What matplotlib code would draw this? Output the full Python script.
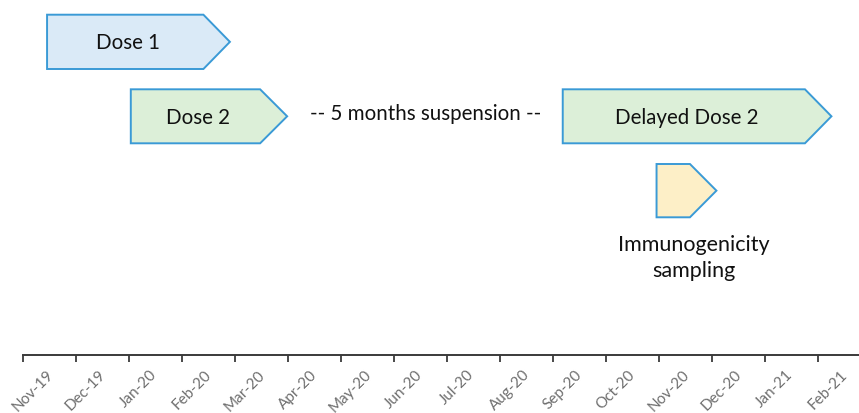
import matplotlib
matplotlib.use("Agg")
import matplotlib.pyplot as plt
from matplotlib.patches import Polygon
import matplotlib.transforms as mtransforms

# ---- data ----
months = ["Nov-19", "Dec-19", "Jan-20", "Feb-20", "Mar-20", "Apr-20", "May-20", "Jun-20",
          "Jul-20", "Aug-20", "Sep-20", "Oct-20", "Nov-20", "Dec-20", "Jan-21", "Feb-21"]
labels = ["Dose 1", "Dose 2", "Delayed Dose 2", ""]
starts = [0.46, 2.04, 10.19, 11.96]      # month index where shape begins
body_ends = [3.41, 4.48, 14.76, 12.59]   # where the arrow head begins
tips = [3.91, 4.99, 15.26, 13.09]        # arrow tip
rows = [0, 1, 1, 2]
fills = ["#DAEAF7", "#DCEFD8", "#DCEFD8", "#FDEFC7"]
suspension_text = "-- 5 months suspension --"
suspension_pos = 7.6
sampling_text = "Immunogenicity\nsampling"
sampling_pos = 12.65

# ---- layout ----
FONT = "Lato"
row_top = [15.7, 90.3, 165.0]
row_h = [54.3, 54.0, 53.3]
edge = "#3A9AD6"

fig = plt.figure(figsize=(8.59, 4.14), dpi=100)
ax = fig.add_axes([0, 0, 1, 1])
ax.set_xlim(-0.428, 15.78)
ax.set_ylim(414, 0)

for lab, s, b, t, r, fc in zip(labels, starts, body_ends, tips, rows, fills):
    top = row_top[r]
    bot = top + row_h[r]
    mid = (top + bot) / 2
    poly = Polygon([(s, top), (b, top), (t, mid), (b, bot), (s, bot)], closed=True,
                   facecolor=fc, edgecolor=edge, linewidth=1.4, joinstyle="miter")
    ax.add_patch(poly)
    if lab:
        ax.text((s + b) / 2 + 0.05, mid + 0.5, lab, ha="center", va="center",
                fontsize=14.8, family=FONT, color="#111111")

ax.text(suspension_pos, row_top[1] + 24, suspension_text, ha="center", va="center",
        fontsize=14.8, family=FONT, color="#111111")
ax.text(sampling_pos + 0.02, 258, sampling_text, ha="center", va="center", linespacing=1.4,
        fontsize=15.5, family=FONT, color="#111111")

# timeline axis
for sp in ["top", "left", "right"]:
    ax.spines[sp].set_visible(False)
ax.spines["bottom"].set_position(("data", 356))
ax.spines["bottom"].set_bounds(0, 15.78)
ax.spines["bottom"].set_color("#3a3a3a")
ax.spines["bottom"].set_linewidth(1.4)
ax.set_yticks([])
ax.set_xticks(range(len(months)))
ax.set_xticklabels(months, rotation=45, ha="center", va="top", family=FONT,
                   fontsize=11, color="#6f6f6f")
ax.tick_params(axis="x", direction="out", length=5, width=1.3, color="#3a3a3a", pad=3.5)
offset = mtransforms.ScaledTranslation(10 / 100, 0, fig.dpi_scale_trans)
for lbl in ax.get_xticklabels():
    lbl.set_transform(lbl.get_transform() + offset)

fig.savefig("out.png", dpi=100)
